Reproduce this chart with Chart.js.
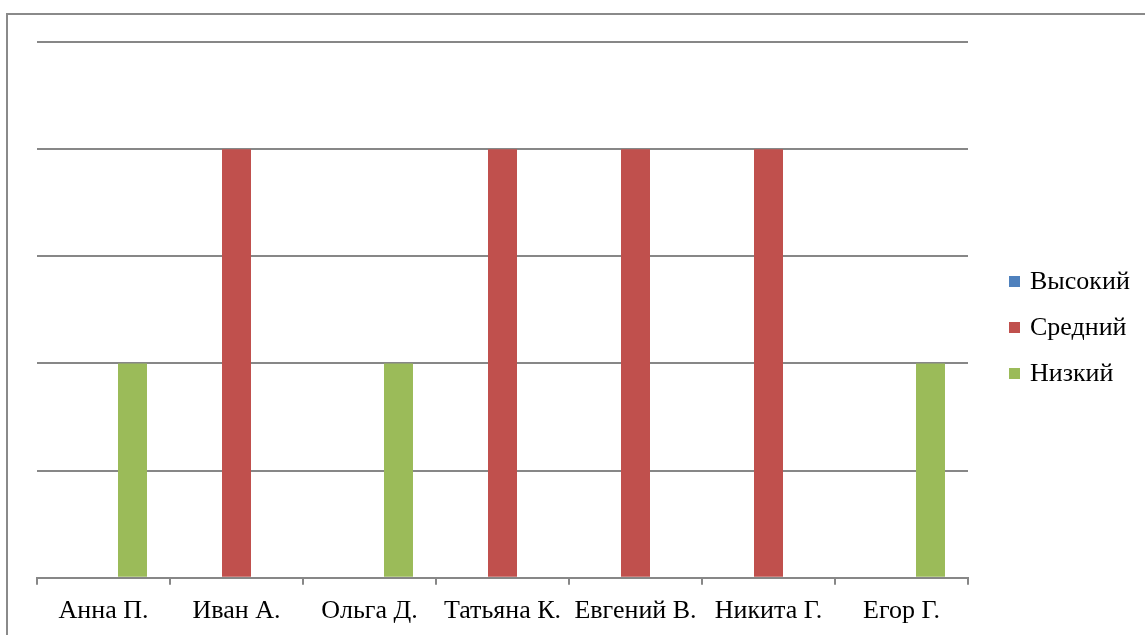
<!DOCTYPE html>
<html>
<head>
<meta charset="utf-8">
<script src="https://cdn.jsdelivr.net/npm/chart.js@4/dist/chart.umd.min.js"></script>
<style>
    html, body { margin: 0; padding: 0; background: #fff; overflow: hidden; }
    #wrap { position: relative; width: 1145px; height: 635px; overflow: hidden; }
    #frame { position: absolute; left: 6px; top: 13px; width: 1200px; height: 700px;
        border-left: 2px solid #8a8a8a; border-top: 2px solid #8a8a8a; }
    #box { position: absolute; left: 0; top: 0; width: 1145px; height: 660px; }
    #legend { position: absolute; left: 1009px; top: 268px; font-family: "Liberation Serif", serif; font-size: 26px; }
    .item { display: flex; align-items: center; height: 26px; line-height: 26px; margin-bottom: 20px; white-space: nowrap; }
    .item span.sw { display: inline-block; width: 11px; height: 11px; margin-right: 10px; }
</style>
</head>
<body>
<div id="wrap">
    <div id="frame"></div>
    <div id="box"><canvas id="barChart"></canvas></div>
    <div id="legend"></div>
</div>
<script>
// Данные диаграммы
const categories = ["Анна П.", "Иван А.", "Ольга Д.", "Татьяна К.", "Евгений В.", "Никита Г.", "Егор Г."];
const seriesNames = ["Высокий", "Средний", "Низкий"];
const highValues = [0, 0, 0, 0, 0, 0, 0];
const midValues = [0, 4, 0, 4, 4, 4, 0];
const lowValues = [2, 0, 2, 0, 0, 0, 2];
const colors = ["#4F81BD", "#C0504D", "#9BBB59"];

const allValues = [highValues, midValues, lowValues];
const gridColor = "#878787";

const ctx = document.getElementById("barChart").getContext("2d");

let chart = new Chart(ctx, {
    type: "bar",
    data: {
        labels: categories,
        datasets: seriesNames.map((name, i) => ({
            label: name,
            data: allValues[i],
            backgroundColor: colors[i],
            borderWidth: 0,
            barPercentage: 1,
            categoryPercentage: 0.654,
        })),
    },
    options: {
        responsive: true,
        maintainAspectRatio: false,
        animation: false,
        layout: {
            padding: { left: 37, top: 42, right: 177, bottom: 22 },
        },
        plugins: {
            legend: { display: false },
            tooltip: { enabled: false },
        },
        scales: {
            x: {
                grid: {
                    drawOnChartArea: false,
                    tickLength: 7,
                    color: gridColor,
                    lineWidth: 2,
                },
                border: { color: gridColor, width: 2 },
                ticks: {
                    color: "#000",
                    padding: 11,
                    font: { family: "Liberation Serif", size: 26, lineHeight: 1.2 },
                },
            },
            y: {
                min: 0,
                max: 5,
                grid: { color: gridColor, lineWidth: 2, drawTicks: false },
                border: { display: false },
                ticks: { display: false, stepSize: 1 },
            },
        },
    },
});

// Легенда справа
const legend = document.getElementById("legend");
seriesNames.forEach((name, i) => {
    const item = document.createElement("div");
    item.className = "item";
    const sw = document.createElement("span");
    sw.className = "sw";
    sw.style.background = colors[i];
    item.appendChild(sw);
    item.appendChild(document.createTextNode(name));
    legend.appendChild(item);
});
</script>
</body>
</html>
